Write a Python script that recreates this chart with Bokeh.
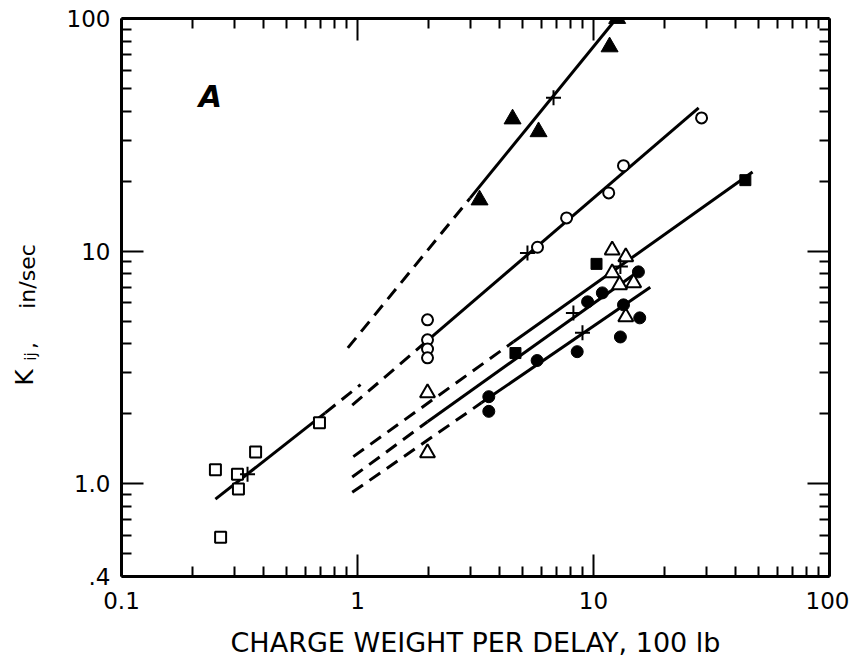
import numpy as np
from bokeh.plotting import figure
from bokeh.layouts import row
from bokeh.models import LogAxis, FixedTicker, Label
from bokeh.core.properties import value
from bokeh.embed import file_html
from bokeh.resources import INLINE

# ---------------- data ----------------
x_ticks = [0.1, 1, 10, 100]
x_tick_labels = ["0.1", "1", "10", "100"]
x_minor = [0.2, 0.3, 0.4, 0.5, 0.6, 0.7, 0.8, 0.9,
           2, 3, 4, 5, 6, 7, 8, 9,
           20, 30, 40, 50, 60, 70, 80, 90]
y_ticks = [0.4, 1, 10, 100]
y_tick_labels = [".4", "1.0", "10", "100"]
y_minor = [0.5, 0.6, 0.7, 0.8, 0.9,
           2, 3, 4, 5, 6, 7, 8, 9,
           20, 30, 40, 50, 60, 70, 80, 90]

# filled triangles
ftri_x = [3.29, 4.54, 5.85, 11.7, 12.6]
ftri_y = [16.6, 37.0, 32.6, 75.5, 100.0]
# open circles
ocir_x = [1.98, 1.98, 1.98, 1.98, 5.79, 7.69, 11.6, 13.4, 28.7]
ocir_y = [5.07, 4.16, 3.80, 3.48, 10.4, 13.9, 17.8, 23.3, 37.4]
# open squares
osq_x = [0.25, 0.263, 0.31, 0.313, 0.37, 0.69]
osq_y = [1.15, 0.59, 1.10, 0.95, 1.37, 1.83]
# open triangles
otri_x = [1.98, 1.98, 12.0, 13.7, 12.0, 12.9, 14.8, 13.7]
otri_y = [2.46, 1.36, 10.1, 9.45, 8.07, 7.17, 7.31, 5.22]
# filled circles
fcir_x = [3.6, 3.6, 5.77, 8.53, 9.44, 10.9, 15.5, 13.4, 15.7, 13.0]
fcir_y = [2.37, 2.05, 3.39, 3.70, 6.06, 6.62, 8.15, 5.88, 5.17, 4.28]
# filled squares
fsq_x = [4.67, 10.3, 44.0]
fsq_y = [3.65, 8.82, 20.2]
# crosses marking each fitted line
cross_x = [0.342, 5.25, 6.77, 13.0, 8.22, 8.98]
cross_y = [1.10, 9.83, 45.6, 8.59, 5.43, 4.46]

# fitted lines: dashed (extrapolated) and solid parts
tri_dash_x, tri_dash_y = [0.91, 3.0], [3.84, 16.9]
tri_solid_x, tri_solid_y = [3.0, 12.6], [16.9, 101.0]
cir_dash_x, cir_dash_y = [0.95, 2.04], [2.18, 4.24]
cir_solid_x, cir_solid_y = [2.04, 27.9], [4.24, 41.3]
sq_solid_x, sq_solid_y = [0.25, 0.73], [0.86, 2.02]
sq_dash_x, sq_dash_y = [0.73, 1.03], [2.02, 2.67]
l1_dash_x, l1_dash_y = [0.96, 4.58], [1.31, 4.08]
l1_solid_x, l1_solid_y = [4.58, 47.2], [4.08, 21.9]
l2_dash_x, l2_dash_y = [0.95, 1.98], [1.07, 1.85]
l2_solid_x, l2_solid_y = [1.98, 15.8], [1.85, 8.3]
l3_dash_x, l3_dash_y = [0.95, 3.35], [0.92, 2.23]
l3_solid_x, l3_solid_y = [3.35, 17.4], [2.23, 7.0]

# y-axis title pieces (K with subscript ij, then units)
ytitle_text = ["K", "ij", ",", "in/sec"]
ytitle_size = ["25px", "15px", "22px", "22px"]

FONT = "DejaVu Sans"
TOP, FH, BOT = 18, 558, 84   # top border, frame height, bottom border
LW = 60                      # width of the strip holding the y-axis title

# ---------------- strip with the rotated y-axis title ----------------
lf = figure(frame_width=LW, frame_height=FH, x_range=(0, LW), y_range=(0, FH),
            min_border_left=0, min_border_right=0,
            min_border_top=TOP, min_border_bottom=BOT,
            x_axis_location=None, y_axis_location=None,
            output_backend="svg", toolbar_location=None)
lf.grid.visible = False
lf.outline_line_color = None
title_cx = [24, 30, 27, 27]       # centre of each piece (px from left)
title_cy = [377, 356, 345, 276]   # centre of each piece (px from page top)
for txt, size, cx, cy in zip(ytitle_text, ytitle_size, title_cx, title_cy):
    lf.text(x=[cx], y=[TOP + FH - cy], text=[txt], angle=np.pi / 2,
            text_font=value(FONT), text_font_size=value(size),
            text_align="center", text_baseline="middle",
            text_color="black")

# ---------------- main plot ----------------
p = figure(x_axis_type="log", y_axis_type="log",
           x_range=(0.1, 100), y_range=(0.4, 100),
           frame_width=708, frame_height=FH,
           min_border_left=121 - LW, min_border_right=20,
           min_border_top=TOP, min_border_bottom=BOT,
           output_backend="svg", toolbar_location=None)
p.grid.visible = False
p.outline_line_color = None
p.background_fill_color = "white"
p.border_fill_color = "white"


def style_axis(ax, ticks, minor):
    ax.ticker = FixedTicker(ticks=ticks, minor_ticks=minor)
    ax.axis_line_width = 3
    ax.axis_line_color = "black"
    ax.major_tick_in = 22
    ax.major_tick_out = 0
    ax.minor_tick_in = 10
    ax.minor_tick_out = 0
    ax.major_tick_line_width = 2
    ax.minor_tick_line_width = 2
    ax.major_tick_line_color = "black"
    ax.minor_tick_line_color = "black"


style_axis(p.xaxis[0], x_ticks, x_minor)
style_axis(p.yaxis[0], y_ticks, y_minor)
p.xaxis[0].major_label_overrides = dict(zip(x_ticks, x_tick_labels))
p.yaxis[0].major_label_overrides = dict(zip(y_ticks, y_tick_labels))
for ax in (p.xaxis[0], p.yaxis[0]):
    ax.major_label_text_font = FONT
    ax.major_label_text_font_size = "23px"
    ax.major_label_text_color = "black"
p.xaxis[0].major_label_standoff = 15
p.yaxis[0].major_label_standoff = 11
p.xaxis[0].axis_label = "CHARGE WEIGHT PER DELAY, 100 lb"
p.xaxis[0].axis_label_text_font = FONT
p.xaxis[0].axis_label_text_font_size = "27px"
p.xaxis[0].axis_label_text_font_style = "normal"
p.xaxis[0].axis_label_text_color = "black"
p.xaxis[0].axis_label_standoff = 15

top = LogAxis()
right = LogAxis()
style_axis(top, x_ticks, x_minor)
style_axis(right, y_ticks, y_minor)
for ax, t in ((top, x_ticks), (right, y_ticks)):
    ax.major_label_overrides = {v: "" for v in t}
    ax.major_label_text_font_size = "0px"
    ax.major_label_standoff = 0
p.add_layout(top, "above")
p.add_layout(right, "right")

DASH = "13 8"
for xs, ys in ((tri_dash_x, tri_dash_y), (cir_dash_x, cir_dash_y),
               (sq_dash_x, sq_dash_y), (l1_dash_x, l1_dash_y),
               (l2_dash_x, l2_dash_y), (l3_dash_x, l3_dash_y)):
    p.line(xs, ys, line_color="black", line_width=3, line_dash=DASH)
for xs, ys in ((tri_solid_x, tri_solid_y), (cir_solid_x, cir_solid_y),
               (sq_solid_x, sq_solid_y), (l1_solid_x, l1_solid_y),
               (l2_solid_x, l2_solid_y), (l3_solid_x, l3_solid_y)):
    p.line(xs, ys, line_color="black", line_width=3)

p.scatter(ftri_x, ftri_y, marker="triangle", size=17,
          fill_color="black", line_color="black", line_width=1)
p.scatter(ocir_x, ocir_y, marker="circle", size=11,
          fill_color="white", line_color="black", line_width=2)
p.scatter(osq_x, osq_y, marker="square", size=11,
          fill_color="white", line_color="black", line_width=2)
p.scatter(otri_x, otri_y, marker="triangle", size=15,
          fill_color="white", line_color="black", line_width=2)
p.scatter(fcir_x, fcir_y, marker="circle", size=12,
          fill_color="black", line_color="black", line_width=1)
p.scatter(fsq_x, fsq_y, marker="square", size=11,
          fill_color="black", line_color="black", line_width=1)
p.scatter(cross_x, cross_y, marker="cross", size=15,
          line_color="black", line_width=2)

# panel letter
p.add_layout(Label(x=0.238, y=46, text="A", text_font=FONT,
                   text_font_size="30px", text_font_style="bold italic",
                   text_align="center", text_baseline="middle",
                   text_color="black"))

layout = row(lf, p, spacing=0)
open("out.html", "w").write(file_html(layout, INLINE))
